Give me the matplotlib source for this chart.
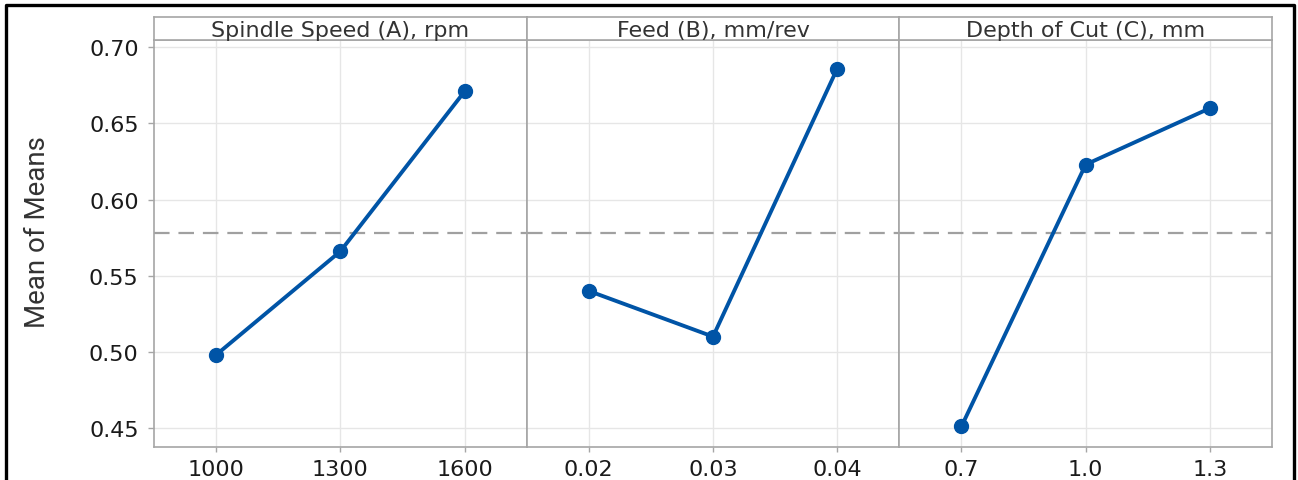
import matplotlib
matplotlib.use("Agg")
import matplotlib.pyplot as plt
from matplotlib.lines import Line2D

# main effects data
factors = ["Spindle Speed (A), rpm", "Feed (B), mm/rev", "Depth of Cut (C), mm"]
levels_a = ["1000", "1300", "1600"]
means_a = [0.498, 0.566, 0.671]
levels_b = ["0.02", "0.03", "0.04"]
means_b = [0.540, 0.510, 0.686]
levels_c = ["0.7", "1.0", "1.3"]
means_c = [0.451, 0.623, 0.660]
yticks = [0.45, 0.50, 0.55, 0.60, 0.65, 0.70]

all_levels = [levels_a, levels_b, levels_c]
all_means = [means_a, means_b, means_c]
grand_mean = sum(sum(m) for m in all_means) / sum(len(m) for m in all_means)

W, H = 1298, 481
fig = plt.figure(figsize=(W / 100, H / 100), dpi=100)
fig.patch.set_facecolor("white")

blue = "#0054a6"
frame_gray = "#a6a6a6"
grid_gray = "#e6e6e6"

left = 154 / W
right = 1272 / W
pw = (right - left) / 3
ax_bottom = 1 - 447.7 / H
ax_h = (447.7 - 40.7) / H
strip_bottom = 1 - 40.7 / H
strip_h = 22.4 / H

axes = []
for i in range(3):
    ax = fig.add_axes([left + i * pw, ax_bottom, pw, ax_h], sharey=axes[0] if axes else None)
    axes.append(ax)
    x = list(range(len(all_levels[i])))
    ax.axhline(grand_mean, color="#a0a0a0", lw=1.6, ls=(0, (7, 4)), zorder=2)
    ax.plot(x, all_means[i], color=blue, lw=2.8, marker="o", ms=10,
            markerfacecolor=blue, markeredgecolor=blue, zorder=3)
    ax.set_xlim(-0.5, len(x) - 0.5)
    ax.set_xticks(x)
    ax.set_xticklabels(all_levels[i])
    ax.set_yticks(yticks)
    ax.set_ylim(0.4377, 0.705)
    ax.grid(True, color=grid_gray, lw=1.0, zorder=0)
    ax.set_axisbelow(True)
    for s in ax.spines.values():
        s.set_color(frame_gray)
        s.set_linewidth(1.2)
    ax.tick_params(axis="x", length=3.5, width=1, color=frame_gray, pad=5,
                   labelsize=16, labelcolor="#1a1a1a")
    ax.tick_params(axis="y", length=4, width=1, color=frame_gray, pad=7,
                   labelsize=16, labelcolor="#1a1a1a")
    if i == 0:
        ax.set_yticklabels([f"{v:.2f}" for v in yticks])
    else:
        ax.tick_params(axis="y", left=False, labelleft=False)

    # strip header above each panel
    st = fig.add_axes([left + i * pw, strip_bottom, pw, strip_h])
    st.set_xticks([])
    st.set_yticks([])
    for s in st.spines.values():
        s.set_color(frame_gray)
        s.set_linewidth(1.2)
    st.text(0.5, 0.42, factors[i], ha="center", va="center", fontsize=16,
            color="#333333", transform=st.transAxes)

fig.text(38 / W, 1 - 232 / H, "Mean of Means", rotation=90, ha="center", va="center",
         fontsize=20, color="#333333", family=["Roboto", "DejaVu Sans"])

# black frame around the picture (bottom edge cut off in the original)
fx0, fx1, fy1 = 6 / W, 1294 / W, 1 - 6 / H
fig.add_artist(Line2D([fx0, fx0, fx1, fx1], [0, fy1, fy1, 0], color="black", lw=2.4,
                      transform=fig.transFigure))

fig.savefig("out.png", dpi=100)
